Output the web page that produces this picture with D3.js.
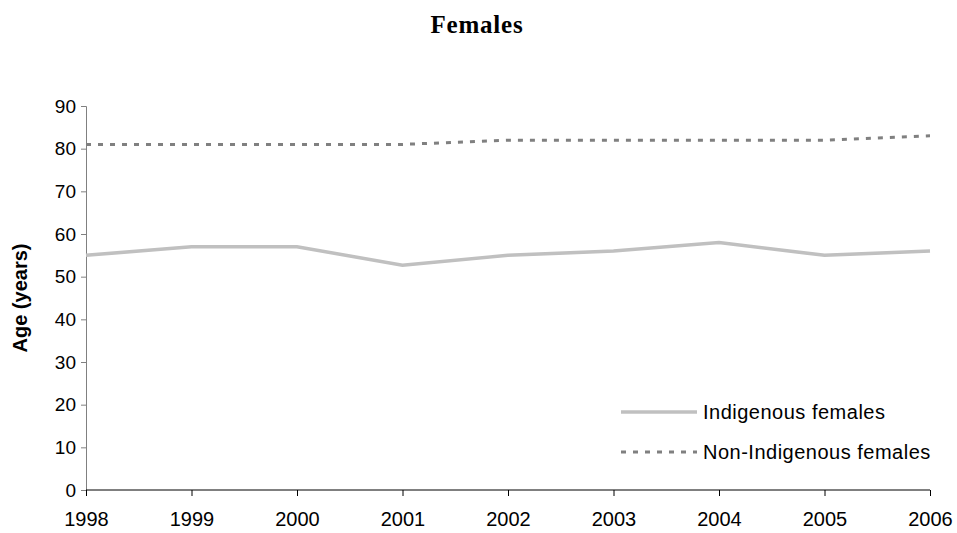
<!DOCTYPE html>
<html><head><meta charset="utf-8">
<script src="https://cdn.jsdelivr.net/npm/d3@7"></script>
<style>body{margin:0;background:#fff}</style>
</head><body>
<svg id="c" width="957" height="533"></svg>
<script>
const years = [1998, 1999, 2000, 2001, 2002, 2003, 2004, 2005, 2006];
const indigenous = [55, 57, 57, 52.7, 55, 56, 58, 55, 56];
const nonIndigenous = [81, 81, 81, 81, 82, 82, 82, 82, 83];
const yTicks = [0, 10, 20, 30, 40, 50, 60, 70, 80, 90];
const seriesNames = ["Indigenous females", "Non-Indigenous females"];

const svg = d3.select("#c");
const x = d3.scalePoint().domain(years).range([86, 930]);
const y = d3.scaleLinear().domain([0, 90]).range([490, 106]);
const font = "Arial, 'Liberation Sans', sans-serif";

svg.append("text").attr("x", 477).attr("y", 33).attr("text-anchor", "middle")
  .attr("font-family", "'Liberation Serif', 'Times New Roman', serif").attr("font-weight", "bold")
  .attr("font-size", 25).attr("letter-spacing", 0.8).text("Females");

const yAxis = svg.append("g").attr("transform", "translate(86,0)")
  .call(d3.axisLeft(y).tickValues(yTicks).tickSize(5).tickPadding(5));
yAxis.select(".domain").attr("stroke", "#808080");
yAxis.selectAll(".tick line").attr("stroke", "#808080");
yAxis.selectAll("text").attr("font-family", font).attr("font-size", 19).attr("fill", "#000");

const xAxis = svg.append("g").attr("transform", "translate(0,490)")
  .call(d3.axisBottom(x).tickSize(6).tickPadding(16).tickFormat(d3.format("d")));
xAxis.select(".domain").attr("stroke", "#000").attr("d", "M86,0H930");
xAxis.selectAll(".tick line").attr("stroke", "#000");
xAxis.selectAll("text").attr("font-family", font).attr("font-size", 20).attr("fill", "#000");

svg.append("text").attr("transform", "translate(27,298) rotate(-90)").attr("text-anchor", "middle")
  .attr("font-family", font).attr("font-weight", "bold").attr("font-size", 20).text("Age (years)");

const line = d3.line().x((d, i) => x(years[i])).y(d => y(d));
svg.append("path").datum(nonIndigenous).attr("d", line).attr("fill", "none")
  .attr("stroke", "#808080").attr("stroke-width", 3).attr("stroke-dasharray", "5,7");
svg.append("path").datum(indigenous).attr("d", line).attr("fill", "none")
  .attr("stroke", "#c0c0c0").attr("stroke-width", 3.5);

const leg = [{y: 412, stroke: "#c0c0c0", w: 3.5, dash: null}, {y: 452, stroke: "#808080", w: 3, dash: "5,7"}];
leg.forEach((l, i) => {
  svg.append("line").attr("x1", 621).attr("x2", 697).attr("y1", l.y).attr("y2", l.y)
    .attr("stroke", l.stroke).attr("stroke-width", l.w).attr("stroke-dasharray", l.dash);
  svg.append("text").attr("x", 703).attr("y", l.y + 7).attr("font-family", font).attr("font-size", 20)
    .attr("letter-spacing", 0.5).text(seriesNames[i]);
});
</script>
</body></html>
